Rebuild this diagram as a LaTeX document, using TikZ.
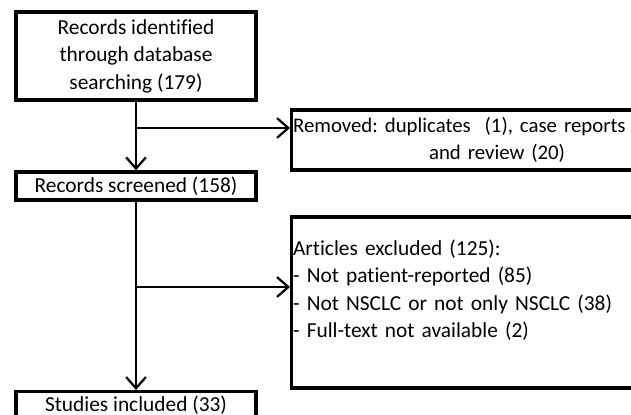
\documentclass[tikz,border=0pt]{standalone}
\usepackage{fontspec}
\setmainfont{Carlito}[Ligatures=NoCommon]
\usepackage{tikz}
\usetikzlibrary{arrows.meta}
\frenchspacing

\begin{document}
\begin{tikzpicture}[scale=1,
  box/.style={draw, line width=2.4pt, inner sep=1pt, font=\fontsize{15.2pt}{19.6pt}\selectfont},
  arr/.style={line width=1.6pt, -{Straight Barb[length=8pt,width=14pt,line width=1.6pt]}}]
\clip (0,0) rectangle (15.775,10.375);
% boxes
\node[box, align=center, minimum width=6.0cm, minimum height=2.2cm] (found) at (3.4,8.975)
  {Records identified\\through database\\searching (179)};
\node[box, minimum width=6.0cm, minimum height=0.7cm] (screened) at (3.4,5.725) {Records screened (158)};
\node[box, anchor=north, minimum width=6.0cm, minimum height=0.65cm] (included) at (3.4,0.625) {Studies included (33)};
\node[box, anchor=west, align=left, text width=9.2cm, minimum height=1.5cm,
  font=\fontsize{14.8pt}{19.6pt}\selectfont] (removed) at (7.25,6.875)
  {Removed: duplicates\ \ (1), case reports\\\hspace*{3.4cm}and review (20)};
\node[box, anchor=west, align=left, text width=9.2cm, minimum height=4.275cm] (excluded) at (7.25,2.8125)
  {Articles excluded (125):\\- Not patient-reported (85)\\- Not NSCLC or not only NSCLC (38)\\- Full-text not available (2)\\~};
% arrows
\coordinate (b1) at (3.4,7.175);
\coordinate (b2) at (3.4,3.2);
\draw[arr] (found) -- (screened);
\draw[arr] (b1) -- (b1 -| removed.west);
\draw[arr] (screened) -- (included);
\draw[arr] (b2) -- (b2 -| excluded.west);
\end{tikzpicture}
\end{document}
